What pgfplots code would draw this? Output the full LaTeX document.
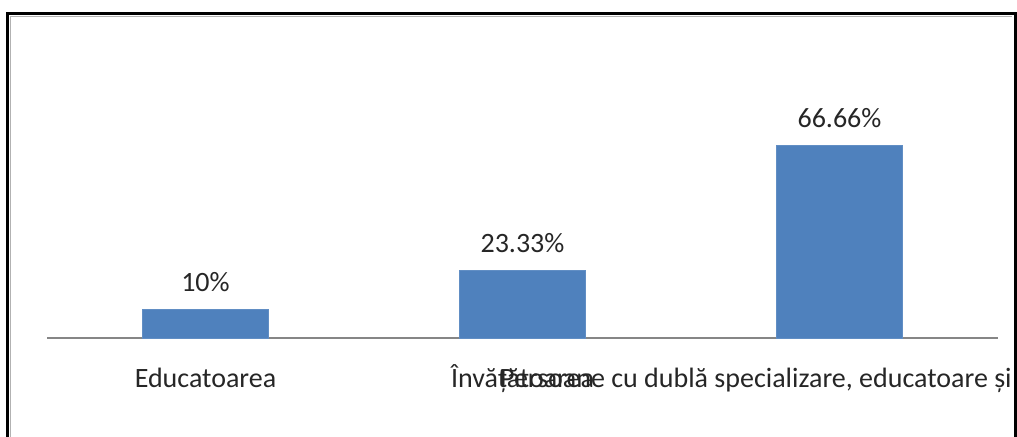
\documentclass[border=0pt]{standalone}
\usepackage{pgfplots}
\pgfplotsset{compat=1.18}
\usepackage{fontspec}
\setmainfont{Carlito}
\definecolor{barblue}{HTML}{4F81BD}
\definecolor{axisgray}{HTML}{868686}
\begin{document}
\begin{tikzpicture}
% 1 px of the reference = 0.5pt
\useasboundingbox (0,0) rectangle (508.5pt,218.5pt);
\clip (0,0) rectangle (508.5pt,218.5pt);
\begin{scope}
\clip (4.5pt,0) rectangle (506.8pt,211pt);
\begin{axis}[
  at={(23.5pt,49.5pt)}, anchor=south west,
  scale only axis, width=475.5pt, height=154pt,
  xmin=-0.5, xmax=2.5, ymin=0, ymax=106.4,
  axis x line*=bottom, hide y axis,
  x axis line style={axisgray, line width=0.6pt, -},
  xtick={0,1,2}, major tick length=0pt,
  xticklabels={Educatoarea, Învățătoarea, {\hspace*{-16pt}Persoane cu dublă specializare, educatoare și învățătoare}},
  xticklabel style={anchor=base, yshift=-25pt, font=\fontsize{14pt}{16pt}\selectfont, text=black!85},
  ytick=\empty,
  clip=false,
]
\addplot[ybar, bar width=63pt, fill=barblue, draw=barblue!90!white,
  point meta=explicit symbolic,
  nodes near coords={\pgfplotspointmeta},
  every node near coord/.append style={anchor=base, yshift=9pt, font=\fontsize{14pt}{16pt}\selectfont, text=black!85}]
  coordinates {(0,10) [10\%] (1,23.33) [23.33\%] (2,66.66) [66.66\%]};
\end{axis}
\end{scope}
% outer frame
\draw[black, line width=1.5pt] (3.75pt,-10pt) -- (3.75pt,211.75pt) -- (507.6pt,211.75pt) -- (507.6pt,-10pt);
\draw[gray!60, line width=0.6pt] (5.2pt,-10pt) -- (5.2pt,210.3pt) -- (506.1pt,210.3pt);
\end{tikzpicture}
\end{document}
